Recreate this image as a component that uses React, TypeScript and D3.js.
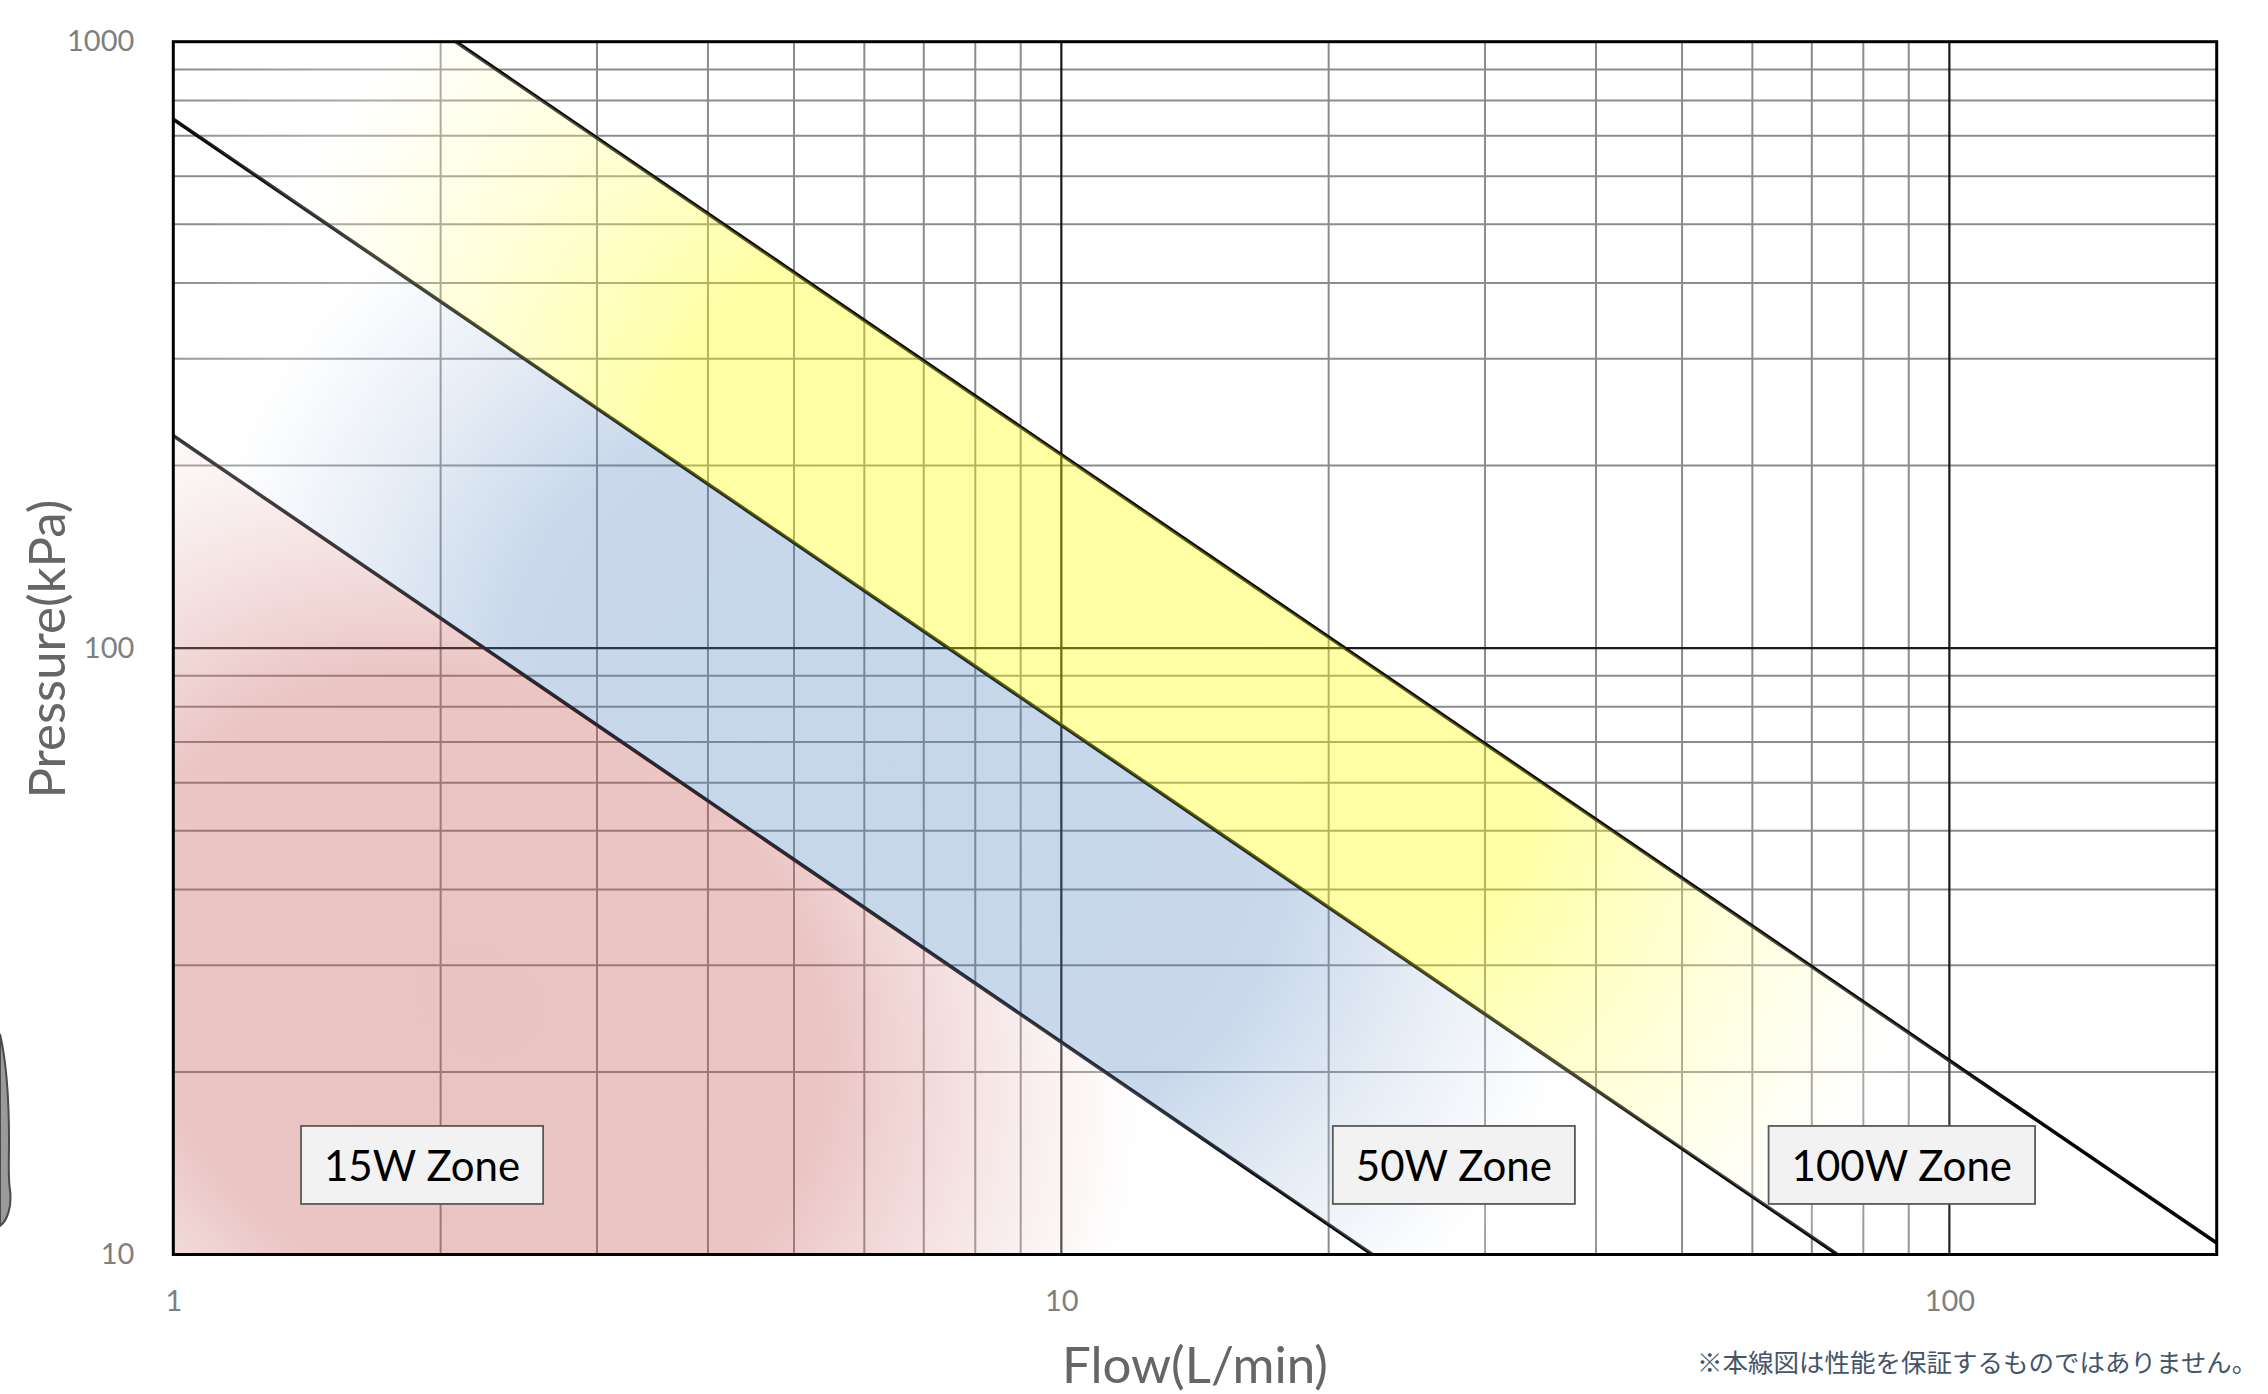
import React, { useEffect, useRef } from "react";
import * as d3 from "d3";

// ---------------- data ----------------
const flowDomain: [number, number] = [1, 200];
const pressureDomain: [number, number] = [10, 1000];
const flowTicks = [1, 10, 100];
const pressureTicks = [10, 100, 1000];
const flowMinorGrid = [2, 3, 4, 5, 6, 7, 8, 9, 20, 30, 40, 50, 60, 70, 80, 90];
const flowMajorGrid = [10, 100];
const pressureMinorGrid = [20, 30, 40, 50, 60, 70, 80, 90, 200, 300, 400, 500, 600, 700, 800, 900];
const pressureMajorGrid = [100];

// zone boundary lines: [flow (L/min), pressure (kPa)]
const boundary15W: [number, number][] = [[1, 224], [22.4, 10]];
const boundary50W: [number, number][] = [[1, 745], [74.8, 10]];
const boundary100W: [number, number][] = [[2.08, 1000], [200, 10.45]];

const zoneLabels = ["15W Zone", "50W Zone", "100W Zone"];
const zoneLabelFlow = [1.906, 27.67, 88.4];
const zoneLabelPressure = [14.05, 14.05, 14.05];

const xTitle = "Flow(L/min)";
const yTitle = "Pressure(kPa)";
const footnote = "※本線図は性能を保証するものではありません。";

export default function App() {
  const ref = useRef<SVGSVGElement>(null);

  useEffect(() => {
    document.body.style.margin = "0";
    const svg = d3.select(ref.current);
    svg.selectAll("*").remove();

    const x = d3.scaleLog().domain(flowDomain).range([173.3, 2216.7]);
    const y = d3.scaleLog().domain(pressureDomain).range([1254.5, 41.7]);
    const [xL, xR] = x.range();
    const [yB, yT] = y.range();

    const defs = svg.append("defs");
    defs
      .append("clipPath")
      .attr("id", "plotClip")
      .append("rect")
      .attr("x", xL)
      .attr("y", yT)
      .attr("width", xR - xL)
      .attr("height", yB - yT);

    const angle = (Math.atan2(y(10) - y(100), x(10) - x(1)) * 180) / Math.PI;

    function radial(
      id: string,
      cq: number,
      cp: number,
      rx: number,
      ry: number,
      rot: number,
      stops: [number, string, number][]
    ) {
      const cx = x(cq);
      const cy = y(cp);
      const rg = defs
        .append("radialGradient")
        .attr("id", id)
        .attr("gradientUnits", "userSpaceOnUse")
        .attr("cx", cx)
        .attr("cy", cy)
        .attr("r", rx)
        .attr("fx", cx)
        .attr("fy", cy)
        .attr(
          "gradientTransform",
          `translate(${cx},${cy}) rotate(${rot}) scale(1,${ry / rx}) translate(${-cx},${-cy})`
        );
      stops.forEach(([o, c, a]) =>
        rg.append("stop").attr("offset", o).attr("stop-color", c).attr("stop-opacity", a)
      );
    }

    const red = "rgb(192,80,77)";
    const blue = "rgb(79,129,189)";
    const yellow = "rgb(255,255,0)";
    radial("gRed", 2.21, 26.3, 820, 680, angle, [
      [0, red, 0.34],
      [0.45, red, 0.33],
      [0.85, "#ffffff", 0.25],
      [1, "#ffffff", 0],
    ]);
    radial("gBlue", 6.5, 62.9, 900, 760, angle, [
      [0, blue, 0.32],
      [0.46, blue, 0.31],
      [0.82, "#ffffff", 0.25],
      [1, "#ffffff", 0],
    ]);
    radial("gYellow", 11, 113.5, 1080, 780, angle, [
      [0, yellow, 0.36],
      [0.45, yellow, 0.35],
      [0.84, "#ffffff", 0.25],
      [1, "#ffffff", 0],
    ]);

    // ---- grid ----
    const grid = svg.append("g");
    grid
      .selectAll("line.vmin")
      .data(flowMinorGrid)
      .join("line")
      .attr("x1", (d) => x(d))
      .attr("x2", (d) => x(d))
      .attr("y1", yT)
      .attr("y2", yB)
      .attr("stroke", "#8c8c8c")
      .attr("stroke-width", 2);
    grid
      .selectAll("line.hmin")
      .data(pressureMinorGrid)
      .join("line")
      .attr("x1", xL)
      .attr("x2", xR)
      .attr("y1", (d) => y(d))
      .attr("y2", (d) => y(d))
      .attr("stroke", "#8c8c8c")
      .attr("stroke-width", 2);
    grid
      .selectAll("line.vmaj")
      .data(flowMajorGrid)
      .join("line")
      .attr("x1", (d) => x(d))
      .attr("x2", (d) => x(d))
      .attr("y1", yT)
      .attr("y2", yB)
      .attr("stroke", "#1a1a1a")
      .attr("stroke-width", 2.2);
    grid
      .selectAll("line.hmaj")
      .data(pressureMajorGrid)
      .join("line")
      .attr("x1", xL)
      .attr("x2", xR)
      .attr("y1", (d) => y(d))
      .attr("y2", (d) => y(d))
      .attr("stroke", "#1a1a1a")
      .attr("stroke-width", 2.2);

    // ---- boundary lines ----
    const line = d3
      .line<[number, number]>()
      .x((d) => x(d[0]))
      .y((d) => y(d[1]));
    const lines = svg.append("g").attr("clip-path", "url(#plotClip)");
    [boundary15W, boundary50W, boundary100W].forEach((b) =>
      lines
        .append("path")
        .attr("d", line(b) as string)
        .attr("fill", "none")
        .attr("stroke", "#050505")
        .attr("stroke-width", 3.6)
    );

    // ---- zone overlays ----
    const redPoly: [number, number][] = [[flowDomain[0], pressureDomain[0]], boundary15W[0], boundary15W[1]];
    const bluePoly: [number, number][] = [boundary15W[0], boundary50W[0], boundary50W[1], boundary15W[1]];
    const yellowPoly: [number, number][] = [
      boundary50W[0],
      [flowDomain[0], pressureDomain[1]],
      boundary100W[0],
      boundary100W[1],
      [flowDomain[1], pressureDomain[0]],
      boundary50W[1],
    ];
    const poly = (pts: [number, number][]) => (line(pts) as string) + "Z";
    const zones = svg.append("g").attr("clip-path", "url(#plotClip)");
    zones.append("path").attr("d", poly(redPoly)).attr("fill", "url(#gRed)");
    zones.append("path").attr("d", poly(bluePoly)).attr("fill", "url(#gBlue)");
    zones.append("path").attr("d", poly(yellowPoly)).attr("fill", "url(#gYellow)");

    // ---- plot border ----
    svg
      .append("rect")
      .attr("x", xL)
      .attr("y", yT)
      .attr("width", xR - xL)
      .attr("height", yB - yT)
      .attr("fill", "none")
      .attr("stroke", "#000")
      .attr("stroke-width", 3);

    // ---- zone labels ----
    const lab = svg.append("g");
    zoneLabels.forEach((t, i) => {
      const cx = x(zoneLabelFlow[i]);
      const cy = y(zoneLabelPressure[i]);
      const rect = lab.append("rect");
      const txt = lab
        .append("text")
        .attr("x", cx)
        .attr("y", cy + 16)
        .attr("text-anchor", "middle")
        .attr("font-family", "Lato, 'Open Sans', sans-serif")
        .attr("font-size", 42)
        .attr("fill", "#000")
        .text(t);
      const w = (txt.node() as SVGTextElement).getComputedTextLength() + 46;
      rect
        .attr("x", cx - w / 2)
        .attr("y", cy - 39)
        .attr("width", w)
        .attr("height", 78)
        .attr("fill", "#f2f2f2")
        .attr("stroke", "#595959")
        .attr("stroke-width", 1.8);
    });

    // ---- axes ----
    const yAxis = svg
      .append("g")
      .attr("transform", `translate(${xL},0)`)
      .call(
        d3
          .axisLeft(y)
          .tickValues(pressureTicks)
          .tickSize(0)
          .tickPadding(39)
          .tickFormat(d3.format("d") as any)
      );
    const xAxis = svg
      .append("g")
      .attr("transform", `translate(0,${yB})`)
      .call(
        d3
          .axisBottom(x)
          .tickValues(flowTicks)
          .tickSize(0)
          .tickPadding(36)
          .tickFormat(d3.format("d") as any)
      );
    [yAxis, xAxis].forEach((a) => {
      a.select(".domain").remove();
      a.attr("font-family", "Lato, 'Open Sans', sans-serif").attr("font-size", 29);
      a.selectAll("text").attr("fill", "#7f7f7f");
    });

    // ---- titles ----
    svg
      .append("text")
      .attr("transform", `translate(65,${(yT + yB) / 2 + 1}) rotate(-90)`)
      .attr("text-anchor", "middle")
      .attr("font-family", "Lato, 'Open Sans', sans-serif")
      .attr("font-size", 51)
      .attr("fill", "#666666")
      .text(yTitle);
    svg
      .append("text")
      .attr("x", (xL + xR) / 2)
      .attr("y", 1383)
      .attr("text-anchor", "middle")
      .attr("font-family", "Lato, 'Open Sans', sans-serif")
      .attr("font-size", 51)
      .attr("fill", "#666666")
      .text(xTitle);
    svg
      .append("text")
      .attr("x", 1697)
      .attr("y", 1372)
      .attr("font-family", "'Noto Sans CJK JP', sans-serif")
      .attr("font-size", 25.5)
      .attr("fill", "#44546a")
      .text(footnote);

    // ---- clipped decorative object at the left edge ----
    const deco = svg.append("g");
    deco
      .append("path")
      .attr(
        "d",
        "M0,1034 C6,1060 9,1100 9,1140 C9,1165 8,1178 10,1190 C12,1205 8,1220 0,1226 Z"
      )
      .attr("fill", "#9a9a9a")
      .attr("stroke", "#4a4a4a")
      .attr("stroke-width", 2);
  }, []);

  return <svg ref={ref} width={2268} height={1394} style={{ display: "block", background: "#fff" }} />;
}
